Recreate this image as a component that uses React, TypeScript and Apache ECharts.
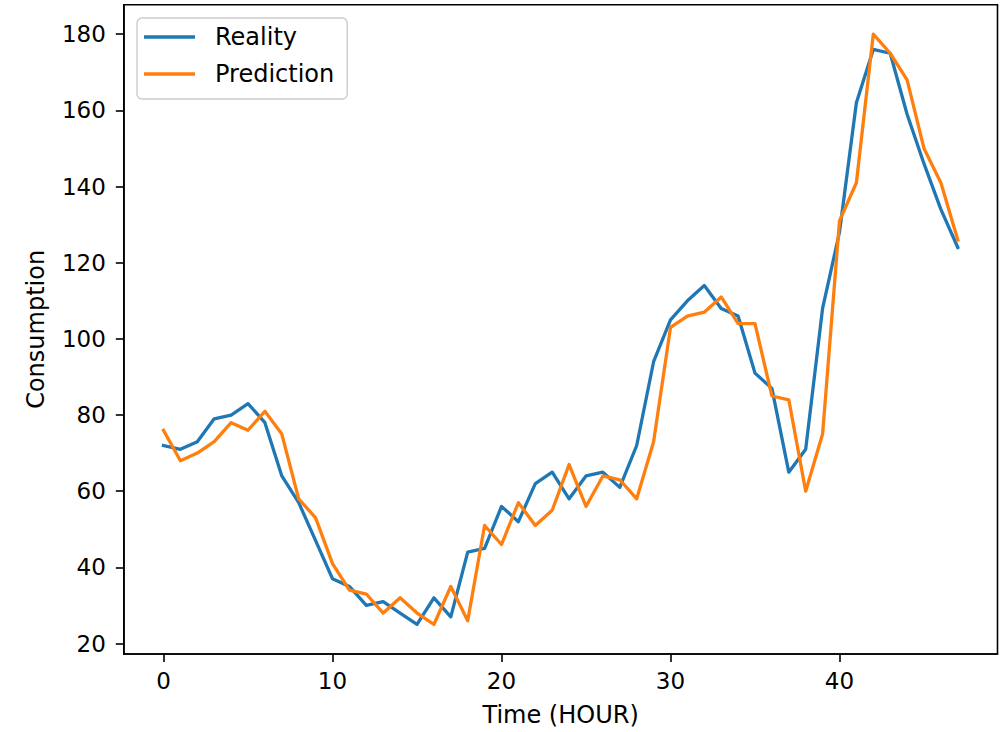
import React, { useEffect, useRef } from "react";
import * as echarts from "echarts";

const hours: number[] = Array.from({ length: 48 }, (_, i) => i);
const reality: number[] = [
  72, 71, 73, 79, 80, 83, 78, 64, 57, 47, 37, 35, 30, 31, 28, 25, 32, 27, 44, 45,
  56, 52, 62, 65, 58, 64, 65, 61, 72, 94, 105, 110, 114, 108, 106, 91, 87, 65, 71, 108,
  128, 162, 176, 175, 159, 146, 134, 124,
];
const prediction: number[] = [
  76, 68, 70, 73, 78, 76, 81, 75, 58, 53, 41, 34, 33, 28, 32, 28, 25, 35, 26, 51,
  46, 57, 51, 55, 67, 56, 64, 63, 58, 73, 103, 106, 107, 111, 104, 104, 85, 84, 60, 75,
  131, 141, 180, 175, 168, 150, 141, 126,
];
const xTicks: number[] = [0, 10, 20, 30, 40];
const yTicks: number[] = [20, 40, 60, 80, 100, 120, 140, 160, 180];
const seriesNames: string[] = ["Reality", "Prediction"];

const FONT = "DejaVu Sans";
const FS = 24;
const TFS = 23;

export default function App() {
  const ref = useRef<HTMLDivElement>(null);
  useEffect(() => {
    if (!ref.current) return;
    const chart = echarts.init(ref.current, null, { renderer: "svg" });
    const toPairs = (arr: number[]) => arr.map((v, i) => [hours[i], v]);
    chart.setOption({
      animation: false,
      backgroundColor: "#ffffff",
      grid: {
        left: 123.8,
        right: 7.5,
        top: 4.7,
        bottom: 75,
        show: true,
        borderColor: "#000",
        borderWidth: 1.6,
        backgroundColor: "transparent",
      },
      legend: {
        show: true,
        data: seriesNames,
        orient: "vertical",
        left: 137,
        top: 18,
        icon: "rect",
        itemWidth: 51,
        itemHeight: 3.3,
        itemGap: 13,
        padding: [7, 13, 13, 7],
        backgroundColor: "rgba(255,255,255,0.8)",
        borderColor: "#cccccc",
        borderWidth: 1.4,
        borderRadius: 5,
        textStyle: {
          fontFamily: FONT,
          fontSize: FS,
          color: "#000",
          padding: [0, 0, 0, 15],
        },
      },
      xAxis: {
        type: "value",
        min: -2.35,
        max: 49.35,
        name: "Time (HOUR)",
        nameLocation: "middle",
        nameGap: 49,
        nameTextStyle: { fontFamily: FONT, fontSize: FS, color: "#000" },
        axisLine: { show: true, onZero: false, lineStyle: { color: "#000", width: 1.6 } },
        axisTick: {
          show: true,
          length: 8,
          lineStyle: { color: "#000", width: 1.6 },
          customValues: xTicks,
        },
        axisLabel: {
          fontFamily: FONT,
          fontSize: TFS,
          color: "#000",
          margin: 15,
          customValues: xTicks,
        },
        splitLine: { show: false },
      },
      yAxis: {
        type: "value",
        min: 17.25,
        max: 187.75,
        name: "Consumption",
        nameLocation: "middle",
        nameGap: 76,
        nameTextStyle: { fontFamily: FONT, fontSize: FS, color: "#000" },
        axisLine: { show: true, onZero: false, lineStyle: { color: "#000", width: 1.6 } },
        axisTick: {
          show: true,
          length: 8,
          lineStyle: { color: "#000", width: 1.6 },
          customValues: yTicks,
        },
        axisLabel: {
          fontFamily: FONT,
          fontSize: TFS,
          color: "#000",
          margin: 18,
          customValues: yTicks,
        },
        splitLine: { show: false },
      },
      series: [
        {
          name: seriesNames[0],
          type: "line",
          data: toPairs(reality),
          showSymbol: false,
          symbol: "none",
          color: "#1f77b4",
          lineStyle: { color: "#1f77b4", width: 3.3, cap: "square", join: "round" },
        },
        {
          name: seriesNames[1],
          type: "line",
          data: toPairs(prediction),
          showSymbol: false,
          symbol: "none",
          color: "#ff7f0e",
          lineStyle: { color: "#ff7f0e", width: 3.3, cap: "square", join: "round" },
        },
      ],
    });
    return () => chart.dispose();
  }, []);
  return (
    <div
      ref={ref}
      style={{ position: "absolute", left: 0, top: 0, width: 1005, height: 732 }}
    />
  );
}
